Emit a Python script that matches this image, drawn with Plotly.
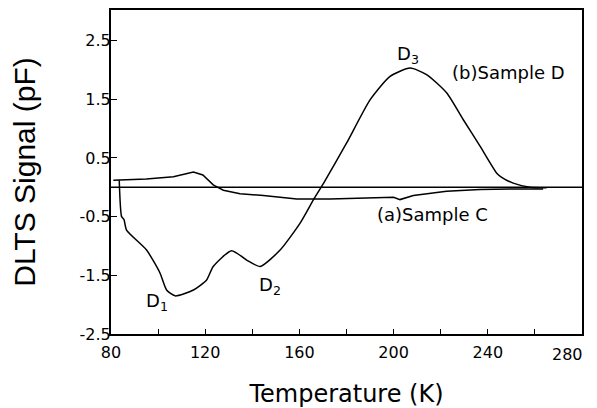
import plotly.graph_objects as go

# Sample C (a)
temp_c = [81, 95, 106.5, 115, 119, 123.4, 127.7, 134.8, 144.7, 158.9, 173, 187, 200, 202.7, 208.4, 222.5, 236.7, 250.8, 263.5]
sig_c = [0.12, 0.14, 0.18, 0.26, 0.21, 0.04, -0.05, -0.11, -0.14, -0.20, -0.20, -0.19, -0.17, -0.21, -0.14, -0.07, -0.04, -0.03, -0.03]

# Sample D (b)
temp_d = [83.5, 84.5, 85.5, 86.6, 95.1, 100.8, 103.6, 107.2, 115, 120.6, 123.4, 131.2, 137.6, 143.3, 151.8, 160.3, 166, 170.3,
          180, 190, 198.5, 207, 214, 222.5, 229.6, 236.7, 243.8, 245.9, 250.8, 257.9, 265]
sig_d = [0.12, -0.50, -0.55, -0.73, -1.07, -1.46, -1.75, -1.85, -1.75, -1.58, -1.35, -1.08, -1.24, -1.35, -1.07, -0.61, -0.21, 0.07,
         0.75, 1.49, 1.89, 2.03, 1.92, 1.61, 1.15, 0.70, 0.24, 0.17, 0.07, 0.0, -0.01]

baseline_x = [80, 280]
baseline_y = [0, 0]

x_ticks = [80, 120, 160, 200, 240, 280]
x_tick_text = ["80", "120", "160", "200", "240", ""]
last_x_tick_label = "280"
y_ticks = [-2.5, -1.5, -0.5, 0.5, 1.5, 2.5]
y_tick_text = ["-2.5", "-1.5", "-0.5", "0.5", "1.5", "2.5"]

labels = ["D<sub>1</sub>", "D<sub>2</sub>", "D<sub>3</sub>", "(b)Sample D", "(a)Sample C"]
label_x = [99.4, 147.5, 206, 248.6, 216.7]
label_y = [-1.95, -1.69, 2.26, 1.95, -0.47]

arial = "Liberation Sans, Arial, sans-serif"
wide = "DejaVu Sans, Verdana, sans-serif"

fig = go.Figure()
fig.add_trace(go.Scatter(x=baseline_x, y=baseline_y, mode="lines", line=dict(color="black", width=1.3), showlegend=False))
fig.add_trace(go.Scatter(x=temp_c, y=sig_c, mode="lines", line=dict(color="black", width=1.5), showlegend=False))
fig.add_trace(go.Scatter(x=temp_d, y=sig_d, mode="lines", line=dict(color="black", width=1.5, shape="spline", smoothing=0.6), showlegend=False))

for t, x, y in zip(labels, label_x, label_y):
    fig.add_annotation(x=x, y=y, text=t, showarrow=False, font=dict(family=wide, size=18, color="black"))

# label of the last x tick, pulled inward so it stays inside the window
fig.add_annotation(x=x_ticks[-1], y=0, xref="x", yref="paper", text=last_x_tick_label, showarrow=False,
                   xanchor="right", yanchor="top", xshift=3, yshift=-9, font=dict(family=wide, size=16, color="black"))

# page body adds an 8px offset; size the figure so it fills the 597x408 window
fig.update_layout(
    width=589, height=400,
    margin=dict(l=103, r=15, t=2, b=74),
    plot_bgcolor="white", paper_bgcolor="white",
    font=dict(family=arial, color="black"),
)
fig.update_xaxes(
    range=[80, 280], tickvals=x_ticks, ticktext=x_tick_text, ticks="inside", ticklen=5, tickwidth=1, tickcolor="black",
    minor=dict(dtick=20, tick0=80, ticks="inside", ticklen=5, tickcolor="black"),
    showline=True, linecolor="black", linewidth=2, mirror=True, showgrid=False, zeroline=False,
    tickfont=dict(size=16, family=wide, color="black"), ticklabelstandoff=3,
    title=dict(text="Temperature (K)", font=dict(size=24, family=wide), standoff=29),
    automargin=False,
)
fig.update_yaxes(
    range=[-2.5, 3.02], tickvals=y_ticks, ticktext=y_tick_text,
    ticks="inside", ticklen=6, tickwidth=1, tickcolor="black",
    showline=True, linecolor="black", linewidth=2, mirror=True, showgrid=False, zeroline=False,
    tickfont=dict(size=16, family=wide, color="black"), ticklabelstandoff=-5, ticklabeloverflow="allow",
    title=dict(text="DLTS Signal (pF)", font=dict(size=30, family=arial), standoff=38),
    automargin=False,
)

fig.write_html("out.html")
